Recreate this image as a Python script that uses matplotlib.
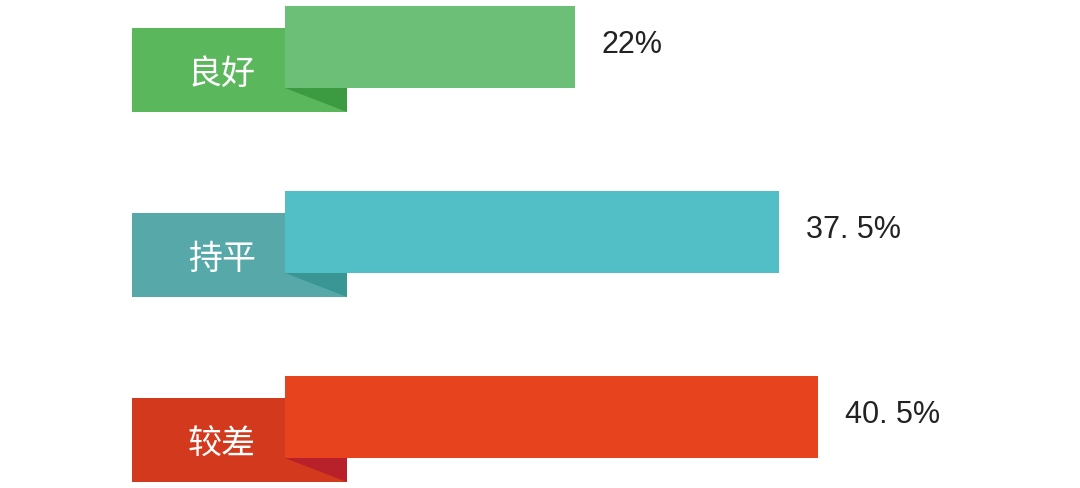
import numpy as np
import matplotlib
matplotlib.use("Agg")
import matplotlib.pyplot as plt
from matplotlib.patches import Rectangle, Polygon

# ------------------------------------------------------------
# Data
# ------------------------------------------------------------
categories = ["良好", "持平", "较差"]
values = [22.0, 37.5, 40.5]
value_labels = ["22%", "37. 5%", "40. 5%"]

bar_colors = ["#6cbf76", "#52bec6", "#e8431f"]
tab_colors = ["#5bb75c", "#56a9a8", "#d2391d"]
fold_colors = ["#3c9b40", "#3a9694", "#b8202a"]

# ------------------------------------------------------------
# Layout (pixel -> data helpers)
# ------------------------------------------------------------
W, H, DPI = 1080, 489, 100
PX_PER_UNIT_X = 13.17   # pixels per percent
X0_PX = 285             # where the bars start
ROW_PX = 185            # distance between rows
ROW0_PX = 48            # center of first bar

def px_x(dx):
    return dx / PX_PER_UNIT_X

def px_y(dy):
    return dy / ROW_PX

plt.rcParams["font.family"] = ["Noto Sans CJK SC", "DejaVu Sans"]

fig = plt.figure(figsize=(W / DPI, H / DPI), dpi=DPI)
fig.patch.set_facecolor("white")
ax = fig.add_axes([0, 0, 1, 1])
ax.set_xlim(px_x(-X0_PX), px_x(W - X0_PX))
ax.set_ylim(px_y(H - ROW0_PX), px_y(-ROW0_PX))
ax.axis("off")

bar_h = px_y(82)
tab_left = px_x(132 - X0_PX)
tab_right = px_x(347 - X0_PX)
tab_top = px_y(-19)
tab_bot = px_y(65)

for i, (cat, v, lab) in enumerate(zip(categories, values, value_labels)):
    y = i
    # label tab behind the bar
    ax.add_patch(Rectangle((tab_left, y + tab_top), tab_right - tab_left,
                           tab_bot - tab_top, facecolor=tab_colors[i],
                           edgecolor="none", zorder=1))
    # folded corner
    ax.add_patch(Polygon([(0, y + bar_h / 2), (tab_right, y + bar_h / 2),
                          (tab_right, y + tab_bot)],
                         closed=True, facecolor=fold_colors[i],
                         edgecolor="none", zorder=2))
    ax.text(px_x(222 - X0_PX), y + px_y(26), cat, color="white",
            fontsize=24.5, ha="center", va="center", zorder=4)

ax.barh(range(len(values)), values, left=0, height=bar_h,
        color=bar_colors, edgecolor="none", zorder=3)

for i, (v, lab) in enumerate(zip(values, value_labels)):
    ax.text(v + px_x(27), i - px_y(3), lab, color="#222222",
            fontsize=22, ha="left", va="center",
            family=["Liberation Sans", "DejaVu Sans"])

fig.savefig("out.png", dpi=DPI, facecolor="white")
